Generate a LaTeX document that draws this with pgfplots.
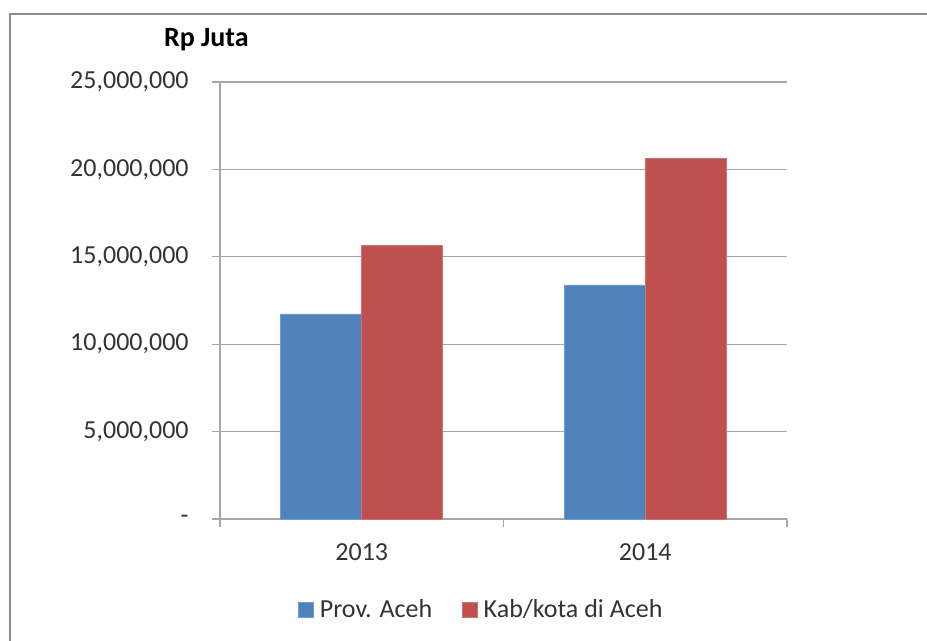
\documentclass[border=0pt]{standalone}
\usepackage{pgfplots}
\pgfplotsset{compat=1.18}
\usepackage{fontspec}
\setmainfont{Carlito}

\definecolor{provblue}{HTML}{4F81BD}
\definecolor{kabred}{HTML}{C0504D}
\definecolor{gridgray}{HTML}{A6A6A6}
\definecolor{framegray}{HTML}{8C8C8C}

\begin{document}
\begin{tikzpicture}
% page is 927x641 px at 0.75pt per px
\path[use as bounding box] (0pt,0pt) rectangle (695.25pt,480.75pt);
\draw[framegray, line width=2pt] (7.5pt,0pt) -- (7.5pt,470.25pt) -- (695.25pt,470.25pt);

\begin{axis}[
    at={(165pt,91.5pt)}, anchor=south west,
    scale only axis,
    width=425.25pt, height=327.75pt,
    ybar=0pt, bar width=60.75pt,
    xmin=-0.5, xmax=1.5,
    ymin=0, ymax=25000000,
    scaled y ticks=false,
    axis lines*=left,
    axis line style={gridgray, line width=0.9pt},
    xtick={0,1}, xticklabels={2013,2014},
    minor xtick={-0.5,0.5,1.5},
    major x tick style={draw=none},
    minor x tick style={gridgray, line width=0.9pt},
    minor tick length=6pt,
    ytick={0,5000000,10000000,15000000,20000000,25000000},
    yticklabels={{-},{5,000,000},{10,000,000},{15,000,000},{20,000,000},{25,000,000}},
    major y tick style={gridgray, line width=0.9pt},
    major tick length=6pt,
    tick align=outside,
    ymajorgrids, grid style={gridgray, line width=0.9pt},
    ticklabel style={font=\fontsize{19.5}{23}\selectfont, text=black!80},
    yticklabel style={xshift=-14pt},
    xticklabel style={yshift=-9pt},
    legend style={at={(0.461,-0.208)}, anchor=center, draw=none,
        font=\fontsize{19.5}{23}\selectfont, text=black!80,
        /tikz/every odd column/.append style={column sep=3pt},
        /tikz/every even column/.append style={column sep=20pt}},
    legend columns=2,
    legend image code/.code={\fill[#1] (0pt,-5.6pt) rectangle (11.25pt,5.6pt);},
    clip=false,
]
\addplot[fill=provblue, draw=provblue!80!white] coordinates {(0,11730000) (1,13390000)};
\addlegendentry{Prov. Aceh}
\addplot[fill=kabred, draw=kabred!80!white] coordinates {(0,15670000) (1,20650000)};
\addlegendentry{Kab/kota di Aceh}
\node[font=\bfseries\fontsize{21}{25}\selectfont, text=black] at (axis description cs:-0.024,1.096) {Rp Juta};
\end{axis}
\end{tikzpicture}
\end{document}
